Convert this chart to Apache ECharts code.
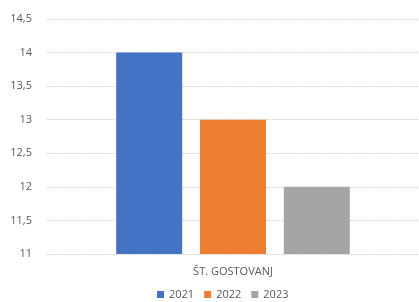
<!DOCTYPE html>
<html>
<head>
<meta charset="utf-8">
<script src="https://cdn.jsdelivr.net/npm/echarts@6/dist/echarts.min.js"></script>
<style>
    html, body { margin: 0; padding: 0; background: #fff; }
    #chart { width: 419px; height: 302px; }
</style>
</head>
<body>
<div id="chart"></div>
<script>
    // podatki
    var categories = ['ŠT. GOSTOVANJ'];
    var seriesNames = ['2021', '2022', '2023'];
    var values2021 = [14];
    var values2022 = [13];
    var values2023 = [12];
    var colors = ['#4472C4', '#ED7D31', '#A5A5A5'];

    var chart = echarts.init(document.getElementById('chart'));
    var font = 'Open Sans';

    var option = {
        animation: false,
        color: colors,
        textStyle: {fontFamily: font},
        grid: {left: 47, right: 0, top: 19, bottom: 48},
        legend: {
            top: 287,
            left: 155,
            padding: 2,
            itemWidth: 7,
            itemHeight: 7,
            itemGap: 10,
            icon: 'rect',
            textStyle: {color: '#595959', fontSize: 11, fontFamily: font},
            data: seriesNames
        },
        xAxis: {
            type: 'category',
            data: categories,
            axisLine: {show: false},
            axisTick: {show: false},
            axisLabel: {color: '#595959', fontSize: 11, margin: 12}
        },
        yAxis: {
            type: 'value',
            min: 11,
            max: 14.5,
            interval: 0.5,
            axisLine: {show: false},
            axisTick: {show: false},
            axisLabel: {
                color: '#595959',
                fontSize: 11,
                margin: 15,
                formatter: function (v) { return String(v).replace('.', ','); }
            },
            splitLine: {lineStyle: {color: '#D9D9D9', type: [2, 1]}}
        },
        series: [
            {name: seriesNames[0], type: 'bar', data: values2021, barWidth: 66, barGap: '27%'},
            {name: seriesNames[1], type: 'bar', data: values2022, barWidth: 66, barGap: '27%'},
            {name: seriesNames[2], type: 'bar', data: values2023, barWidth: 66, barGap: '27%'}
        ]
    };
    chart.setOption(option);
</script>
</body>
</html>
